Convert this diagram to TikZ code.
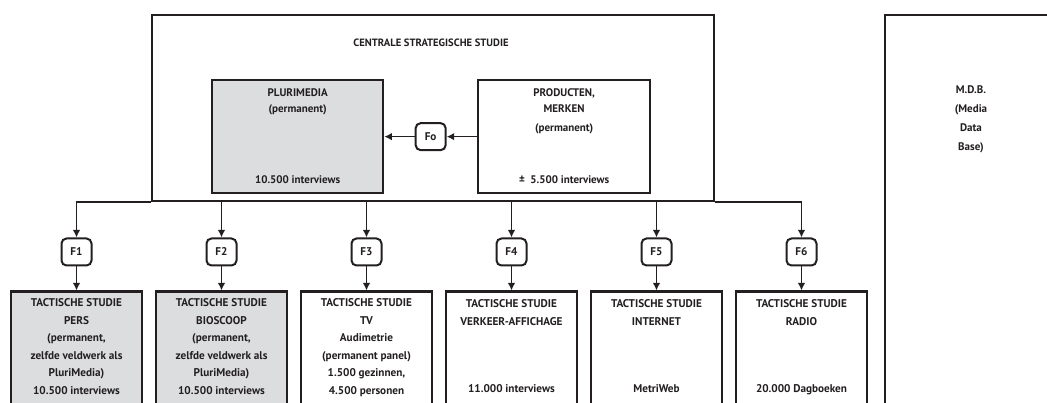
\documentclass[tikz,border=0pt]{standalone}
\usepackage{fontspec}
\setmainfont{PT Sans}
\usetikzlibrary{positioning, arrows.meta, calc}
\definecolor{lijn}{HTML}{231F20}
\definecolor{grijs}{HTML}{DCDDDF}
\begin{document}
\begin{tikzpicture}[x=1pt, y=-1pt, node distance=24pt, >={Latex[length=7.5pt, width=7.5pt]}]
    % Stijlen
    \tikzstyle{kader} = [draw=lijn, line width=2.3pt, rectangle, inner sep=0pt]
    \tikzstyle{studie} = [kader, minimum width=131pt, minimum height=140pt]
    \tikzstyle{filter} = [draw=lijn, line width=2pt, rectangle, rounded corners=5pt, minimum width=30pt, minimum height=27pt, inner sep=0pt, font=\bfseries\fontsize{11.2}{13}\selectfont, text=lijn]
    \tikzstyle{tekst} = [align=center, inner sep=0pt, text=lijn, font=\bfseries\fontsize{11.2}{17.5}\selectfont]
    \tikzstyle{hoofdtekst} = [tekst, font=\bfseries\fontsize{11}{16}\selectfont]
    \tikzstyle{pijl} = [->, draw=lijn, line width=1.6pt]

    \useasboundingbox (0,0) rectangle (1047,403);
    \clip (0,0) rectangle (1047,403);

    % Centrale studie
    \node [kader, minimum width=562pt, minimum height=186pt, anchor=north west] (centrale) at (151,14) {};
    \node [hoofdtekst, font=\bfseries\fontsize{10.6}{16}\selectfont] (titel) at (431,43) {CENTRALE STRATEGISCHE STUDIE};
    \node [kader, fill=grijs, minimum width=171pt, minimum height=113pt, anchor=north west] (pluri) at (211,79) {};
    \node [hoofdtekst, below=9pt of pluri.north] (pluritop) {PLURIMEDIA\\(permanent)};
    \node [hoofdtekst, above=10pt of pluri.south] (pluribot) {10.500 interviews};
    \node [kader, minimum width=172pt, minimum height=113pt, anchor=north west] (prod) at (477,79) {};
    \node [hoofdtekst, below=9pt of prod.north] (prodtop) {PRODUCTEN,\\MERKEN\\[3pt](permanent)};
    \node [hoofdtekst, above=10pt of prod.south] (prodbot) {±~~5.500 interviews};
    \node [filter] (fo) at ($(pluri.east)!0.5!(prod.west)$) {Fo};

    % Filters
    \node [filter] (f1) at (76.5,252) {F1};
    \node [filter, right=113pt of f1] (f2) {F2};
    \node [filter, right=113pt of f2] (f3) {F3};
    \node [filter, right=113pt of f3] (f4) {F4};
    \node [filter, right=113pt of f4] (f5) {F5};
    \node [filter, right=113pt of f5] (f6) {F6};

    % Tactische studies
    \node [studie, fill=grijs, below=of f1, anchor=north] (pers) {};
    \node [studie, fill=grijs, below=of f2, anchor=north] (bioscoop) {};
    \node [studie, below=of f3, anchor=north] (tv) {};
    \node [studie, below=of f4, anchor=north] (verkeer) {};
    \node [studie, below=of f5, anchor=north] (internet) {};
    \node [studie, below=of f6, anchor=north] (radio) {};
    \node [tekst, below=8pt of pers.north] (perstxt) {TACTISCHE STUDIE\\PERS\\(permanent,\\zelfde veldwerk als\\PluriMedia)\\10.500 interviews};
    \node [tekst, below=8pt of bioscoop.north] (bioscooptxt) {TACTISCHE STUDIE\\BIOSCOOP\\(permanent,\\zelfde veldwerk als\\PluriMedia)\\10.500 interviews};
    \node [tekst, below=8pt of tv.north] (tvtxt) {TACTISCHE STUDIE\\TV\\Audimetrie\\(permanent panel)\\1.500 gezinnen,\\4.500 personen};
    \node [tekst, below=9pt of verkeer.north] (verkeertxt) {TACTISCHE STUDIE\\VERKEER-AFFICHAGE\\[50pt]11.000 interviews};
    \node [tekst, below=9pt of internet.north] (internettxt) {TACTISCHE STUDIE\\INTERNET\\[50pt]MetriWeb};
    \node [tekst, below=9pt of radio.north] (radiotxt) {TACTISCHE STUDIE\\RADIO\\[50pt]20.000 Dagboeken};

    % Media Data Base
    \node [kader, minimum width=300pt, minimum height=450pt, anchor=north west] (mdb) at (884,14) {};
    \node [tekst, font=\bfseries\fontsize{11}{19}\selectfont] (mdbtxt) at (971,119) {M.D.B.\\(Media\\Data\\Base)};

    % Verbindingen
    \draw [pijl] (prod) -- (fo);
    \draw [pijl] (fo) -- (pluri);
    \draw [pijl] (centrale.south west) -| (f1);
    \draw [pijl] (centrale.south -| f2) -- (f2);
    \draw [pijl] (centrale.south -| f3) -- (f3);
    \draw [pijl] (centrale.south -| f4) -- (f4);
    \draw [pijl] (centrale.south -| f5) -- (f5);
    \draw [pijl] (centrale.south east) -| (f6);
    \draw [pijl] (f1) -- (pers);
    \draw [pijl] (f2) -- (bioscoop);
    \draw [pijl] (f3) -- (tv);
    \draw [pijl] (f4) -- (verkeer);
    \draw [pijl] (f5) -- (internet);
    \draw [pijl] (f6) -- (radio);
\end{tikzpicture}
\end{document}
